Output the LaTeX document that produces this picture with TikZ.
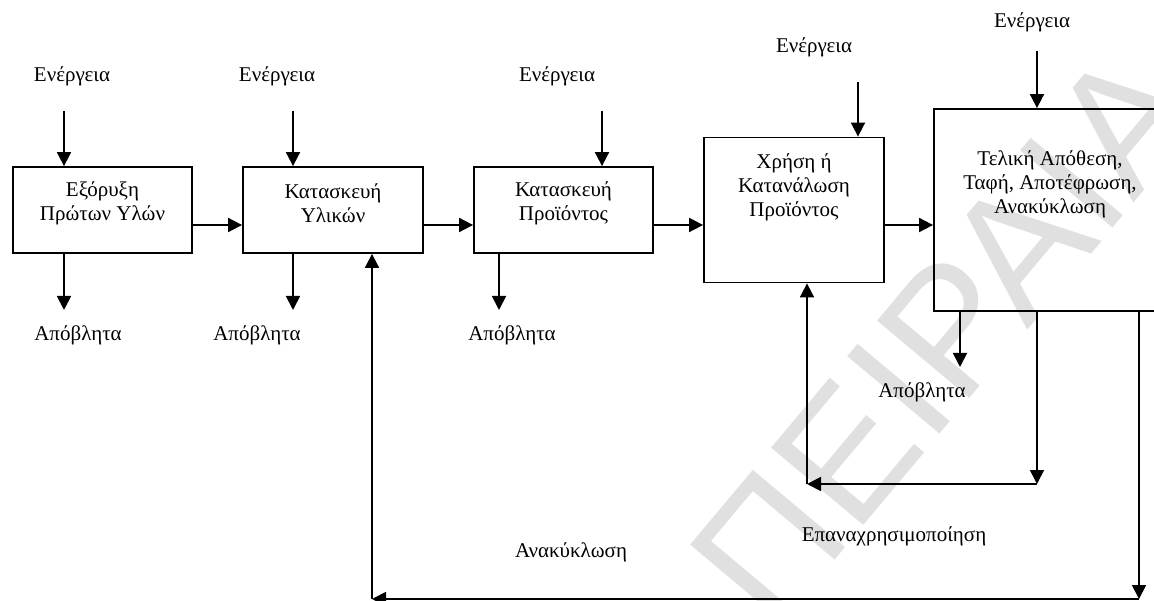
\documentclass[tikz,border=0pt]{standalone}
\usepackage{fontspec}
\setmainfont{Liberation Serif}
\newfontfamily\wmfont{Liberation Sans}
\usetikzlibrary{arrows.meta}

\begin{document}
\begin{tikzpicture}[x=1pt,y=-1pt,
  every node/.style={font=\fontsize{21}{24}\selectfont, inner sep=0pt},
  box/.style={draw, line width=1.8pt},
  boxtext/.style={align=center},
  arr/.style={line width=1.8pt, -{Triangle[length=14pt,width=14pt]}},
  wm/.style={font=\wmfont\fontsize{175}{175}\selectfont, text=black!12, rotate=50}]

\useasboundingbox (0,0) rectangle (1154,601);

% background watermark
\node[wm] (wmark) at (945,335) {ΠΕΙΡΑΙΑ};

% process boxes
\node[box, minimum width=179pt, minimum height=86pt]  (b1) at (102.5,210) {};
\node[box, minimum width=180pt, minimum height=86pt]  (b2) at (333,210) {};
\node[box, minimum width=179pt, minimum height=86pt]  (b3) at (563.5,210) {};
\node[box, minimum width=180pt, minimum height=145pt] (b4) at (794,210) {};
\node[box, minimum width=226pt, minimum height=202pt] (b5) at (1047,210) {};

\node[boxtext] (t1) at (102.5,203) {Εξόρυξη\\Πρώτων Υλών};
\node[boxtext] (t2) at (333,203) {Κατασκευή\\Υλικών};
\node[boxtext] (t3) at (563.5,203) {Κατασκευή\\Προϊόντος};
\node[boxtext] (t4) at (794,187) {Χρήση ή\\Κατανάλωση\\Προϊόντος};
\node[boxtext] (t5) at (1050,184) {Τελική Απόθεση,\\Ταφή, Αποτέφρωση,\\Ανακύκλωση};

% main flow
\draw[arr] ([yshift=-15pt]b1.east) -- ([yshift=-15pt]b2.west);
\draw[arr] ([yshift=-15pt]b2.east) -- ([yshift=-15pt]b3.west);
\draw[arr] ([yshift=-15pt]b3.east) -- ([yshift=-15pt]b4.west);
\draw[arr] ([yshift=-15pt]b4.east) -- ([yshift=-15pt]b5.west);

% energy inputs
\node (le1) at (72,76)   {Ενέργεια};
\node (le2) at (277,76)  {Ενέργεια};
\node (le3) at (557,76)  {Ενέργεια};
\node (le4) at (814,47)  {Ενέργεια};
\node (le5) at (1032,22) {Ενέργεια};
\coordinate (e1) at (64,111);
\coordinate (e2) at (293,111);
\coordinate (e3) at (602,111);
\coordinate (e4) at (858,82);
\coordinate (e5) at (1037,51);
\draw[arr] (e1) -- (e1 |- b1.north);
\draw[arr] (e2) -- (e2 |- b2.north);
\draw[arr] (e3) -- (e3 |- b3.north);
\draw[arr] (e4) -- (e4 |- b4.north);
\draw[arr] (e5) -- (e5 |- b5.north);

% waste outputs
\node (lw1) at (78,335)  {Απόβλητα};
\node (lw2) at (257,335) {Απόβλητα};
\node (lw3) at (512,335) {Απόβλητα};
\node (lw5) at (922,392) {Απόβλητα};
\coordinate (w1) at (64,310);
\coordinate (w2) at (293,310);
\coordinate (w3) at (499,310);
\coordinate (w5) at (960,367);
\draw[arr] (w1 |- b1.south) -- (w1);
\draw[arr] (w2 |- b2.south) -- (w2);
\draw[arr] (w3 |- b3.south) -- (w3);
\draw[arr] (w5 |- b5.south) -- (w5);

% reuse loop
\coordinate (ru1) at (1037,484);
\coordinate (ru2) at (807,484);
\draw[arr] (ru1 |- b5.south) -- (ru1);
\draw[arr] (ru1) -- (ru2);
\draw[arr] (ru2) -- (ru2 |- b4.south);
\node (lru) at (894,536) {Επαναχρησιμοποίηση};

% recycling loop
\coordinate (rc1) at (1139,599);
\coordinate (rc2) at (372,599);
\draw[arr] (rc1 |- b5.south) -- (rc1);
\draw[arr] (rc1) -- (rc2);
\draw[arr] (rc2) -- (rc2 |- b2.south);
\node (lrc) at (571,552) {Ανακύκλωση};

\end{tikzpicture}
\end{document}
